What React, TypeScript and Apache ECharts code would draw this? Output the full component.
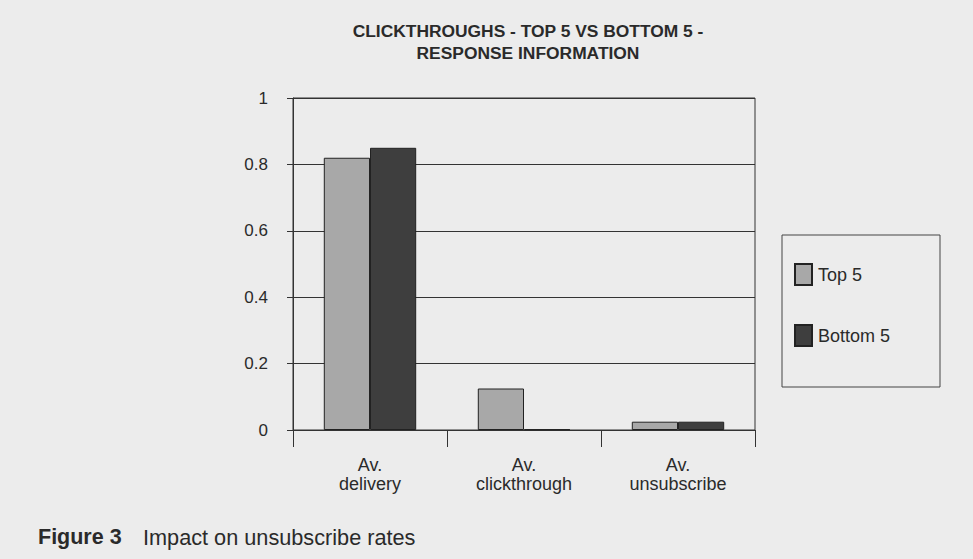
import React, { useEffect, useRef } from "react";
import * as echarts from "echarts";

const categories = ["Av.\ndelivery", "Av.\nclickthrough", "Av.\nunsubscribe"];
const top5 = [0.82, 0.125, 0.025];
const bottom5 = [0.85, 0.002, 0.025];
const yTicks = { min: 0, max: 1, interval: 0.2 };
const titleLines = ["CLICKTHROUGHS - TOP 5 VS BOTTOM 5 -", "RESPONSE INFORMATION"];

const FONT = "'Liberation Sans', Arial, sans-serif";
const INK = "#2a2a2a";

export default function App() {
  const ref = useRef<HTMLDivElement>(null);
  useEffect(() => {
    if (!ref.current) return;
    const chart = echarts.init(ref.current, null, { renderer: "svg" });
    chart.setOption({
      animation: false,
      backgroundColor: "#ececec",
      textStyle: { fontFamily: FONT, color: INK },
      title: {
        text: titleLines.join("\n"),
        left: 528,
        textAlign: "center",
        top: 20,
        padding: 0,
        textStyle: { fontFamily: FONT, fontSize: 17.4, fontWeight: "bold", color: INK, lineHeight: 22 },
      },
      grid: {
        left: 293,
        right: 218,
        top: 98,
        bottom: 129,
        show: true,
        borderColor: "#333",
        borderWidth: 1,
        backgroundColor: "transparent",
      },
      legend: {
        orient: "vertical",
        left: 789,
        top: 258,
        itemWidth: 17,
        itemHeight: 21,
        itemGap: 38,
        icon: "rect",
        textStyle: { fontFamily: FONT, fontSize: 18, color: INK, padding: [0, 0, 0, 1] },
        data: ["Top 5", "Bottom 5"],
      },
      xAxis: {
        type: "category",
        data: categories,
        axisLine: { lineStyle: { color: "#333" } },
        axisTick: { show: true, alignWithLabel: false, length: 17, inside: false, lineStyle: { color: "#333" } },
        axisLabel: { fontFamily: FONT, fontSize: 18, color: INK, margin: 25, lineHeight: 19 },
      },
      yAxis: {
        type: "value",
        min: yTicks.min,
        max: yTicks.max,
        interval: yTicks.interval,
        axisLine: { show: true, lineStyle: { color: "#333" } },
        axisTick: { show: true, length: 6, lineStyle: { color: "#333" } },
        splitLine: { show: true, lineStyle: { color: "#333", width: 1 } },
        axisLabel: { fontFamily: FONT, fontSize: 17, color: INK, margin: 25 },
      },
      series: [
        {
          name: "Top 5",
          type: "bar",
          data: top5,
          barGap: "0%",
          barCategoryGap: "40%",
          itemStyle: { color: "#a8a8a8", borderColor: "#222", borderWidth: 1 },
        },
        {
          name: "Bottom 5",
          type: "bar",
          data: bottom5,
          itemStyle: { color: "#3e3e3e", borderColor: "#222", borderWidth: 1 },
        },
      ],
      graphic: [
        {
          type: "rect",
          shape: { x: 782, y: 235, width: 158, height: 152 },
          style: { fill: "transparent", stroke: "#444", lineWidth: 1 },
          z: -1,
        },
        {
          type: "text",
          x: 38,
          y: 537,
          style: { text: "Figure 3", font: `bold 21.5px ${FONT}`, fill: INK, verticalAlign: "middle" },
        },
        {
          type: "text",
          x: 143,
          y: 537,
          style: { text: "Impact on unsubscribe rates", font: `21.7px ${FONT}`, fill: INK, verticalAlign: "middle" },
        },
      ],
    });
    return () => chart.dispose();
  }, []);
  return <div ref={ref} style={{ position: "absolute", left: 0, top: 0, width: 973, height: 559 }} />;
}
